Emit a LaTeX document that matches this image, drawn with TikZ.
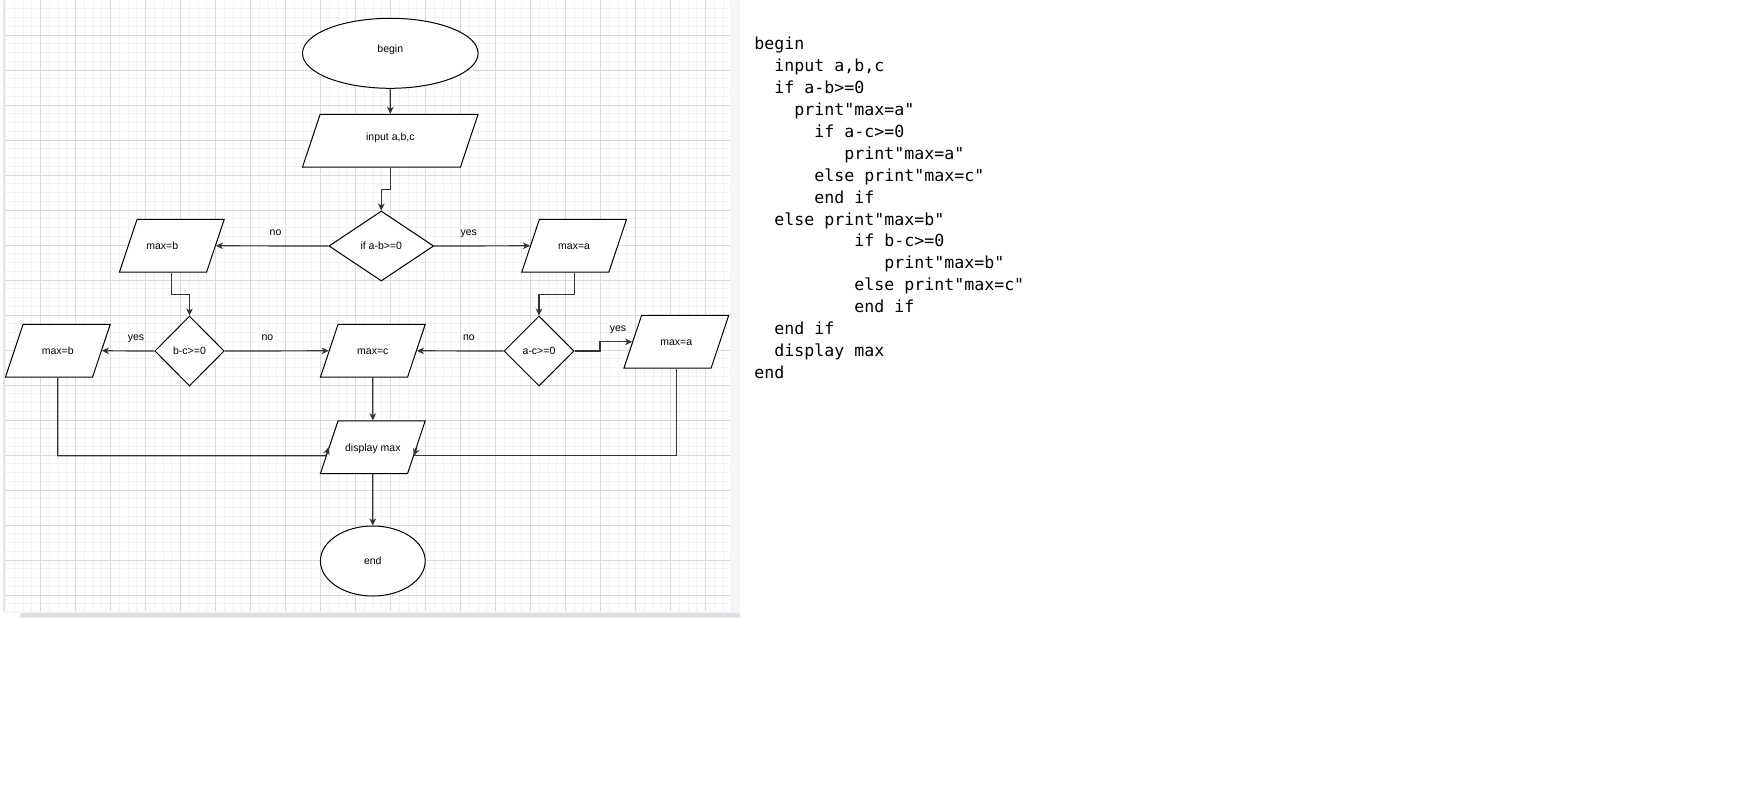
\documentclass[tikz,border=0pt]{standalone}
\usepackage{fontspec}
\usetikzlibrary{shapes.geometric,arrows.meta,calc}
\newfontfamily\labelfont{Liberation Sans}
\newfontfamily\codefont{DejaVu Sans Mono}
\definecolor{gridmajor}{HTML}{DADADA}
\definecolor{gridminor}{HTML}{F2F2F2}
\definecolor{panel}{HTML}{F4F5F7}
\definecolor{scrollbar}{HTML}{DCDDE0}
\newcommand{\ind}[1]{\hspace*{#1\fontcharwd\font`\x}}

\begin{document}
\begin{tikzpicture}[x=0.5pt, y=-0.5pt, >={Stealth[length=3.5pt,width=3.3pt,inset=1pt]},
  every node/.style={font=\labelfont\fontsize{5.25pt}{6.3pt}\selectfont},
  outline/.style={draw=black, line width=0.5pt, fill=white},
  terminal/.style={outline, ellipse, inner sep=0pt},
  io/.style={outline, trapezium, trapezium left angle=71.5, trapezium right angle=108.5,
    trapezium stretches body, text height=15.1pt, text depth=11.3pt,
    minimum width=52.4pt, inner sep=0pt},
  decision/.style={outline, diamond, inner sep=0pt, minimum width=52.4pt, minimum height=35pt},
  flow/.style={->, line width=0.6pt, draw=black!80},
  lbl/.style={anchor=base, yshift=5pt}]
\useasboundingbox (0,0) rectangle (1743,793);
% canvas with grid
\fill[panel] (3,0) rectangle (740,613);
\fill[white] (5.5,0) rectangle (729.5,611);
\draw[gridmajor!70, line width=0.8pt] (4.2,0) -- (4.2,611);
\foreach \i in {1,...,82} \draw[gridminor, line width=0.5pt] (5.5+8.75*\i,0) -- (5.5+8.75*\i,611);
\foreach \j in {1,...,69} \draw[gridminor, line width=0.5pt] (5.5,8.75*\j) -- (729.5,8.75*\j);
\foreach \i in {1,...,20} \draw[gridmajor, line width=0.5pt] (5.5+35*\i,0) -- (5.5+35*\i,611);
\foreach \j in {1,...,17} \draw[gridmajor, line width=0.5pt] (5.5,35*\j) -- (729.5,35*\j);
\fill[scrollbar, rounded corners=1pt] (20,613) rectangle (740,617.7);

% flowchart
\node[terminal, minimum width=87.8pt, minimum height=35pt, text height=3.9pt, text depth=4.7pt] (begin) at (390.3,53.3) {begin};
\node[io, minimum width=87.8pt, text height=13.1pt, text depth=13.3pt] (input) at (390.3,140.7) {input a,b,c};
\node[decision] (ab) at (381.3,246) {if a-b>=0};
\node[io] (maxb1) at (171.8,245.8) {\hspace*{-9.5pt}max=b};
\node[io] (maxa1) at (574.1,245.8) {max=a};
\node[decision, minimum width=34.7pt] (bc) at (189.5,351) {b-c>=0};
\node[decision, minimum width=35pt] (ac) at (539,351) {a-c>=0};
\node[io] (maxb2) at (57.8,350.8) {max=b};
\node[io] (maxc) at (372.8,350.8) {max=c};
\node[io] (maxa2) at (676.3,341.8) {max=a};
\node[io] (disp) at (372.8,447.2) {display max};
\node[terminal, minimum width=52.4pt, minimum height=35pt] (end) at (372.8,561) {end};

\draw[flow] (begin) -- (input);
\draw[flow] (input.south) -- ++(0,22) -| (ab.north);
\draw[flow] (ab.west) -- node[lbl, pos=.47]{no} (maxb1.east);
\draw[flow] (ab.east) -- node[lbl, pos=.36]{yes} (maxa1.west);
\draw[flow] (maxb1.south) -- ++(0,21.7) -| (bc.north);
\draw[flow] (maxa1.south) -- ++(0,21.7) -| (ac.north);
\draw[flow] (bc.west) -- node[lbl, pos=.35]{yes} (maxb2.east);
\draw[flow] (bc.east) -- node[lbl, pos=.41]{no} (maxc.west);
\draw[flow] (ac.west) -- node[lbl, pos=.4]{no} (maxc.east);
\draw[flow] (ac.east) -- ++(25.4,0) |- node[lbl, pos=.78]{yes} (maxa2.west);
\draw[flow] (maxc) -- (disp);
\draw[flow] (disp) -- (end);
\draw[flow] (maxb2.south) |- ($(disp.bottom left corner)!.34!(disp.top left corner)$) -- (disp.west);
\draw[flow, -] (maxa2.south) |- ($(disp.bottom right corner)!.34!(disp.top right corner)$) coordinate (dr);
\draw[flow] (disp.east) -- (dr);

% pseudocode
\node[font=\codefont\fontsize{8.3pt}{10.975pt}\selectfont, align=left, anchor=north west, inner sep=0pt] (pseudo) at (754,36.4) {begin\\
\ind{2}input a,b,c\\
\ind{2}if a-b>=0\\
\ind{4}print"max=a"\\
\ind{6}if a-c>=0\\
\ind{9}print"max=a"\\
\ind{6}else print"max=c"\\
\ind{6}end if\\
\ind{2}else print"max=b"\\
\ind{10}if b-c>=0\\
\ind{13}print"max=b"\\
\ind{10}else print"max=c"\\
\ind{10}end if\\
\ind{2}end if\\
\ind{2}display max\\
end};
\end{tikzpicture}
\end{document}
